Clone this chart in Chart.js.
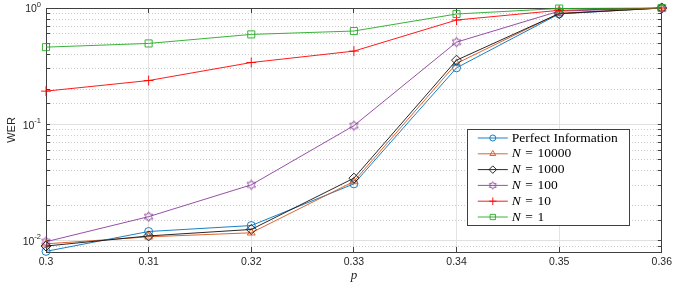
<!DOCTYPE html>
<html><head><meta charset="utf-8">
<script src="https://cdn.jsdelivr.net/npm/chart.js@4/dist/chart.umd.min.js"></script>
<style>html,body{margin:0;padding:0;background:#fff}#wrap{position:relative;width:681px;height:284px}</style>
</head><body><div id="wrap"><canvas id="c" width="681" height="284"></canvas></div>
<script>
// ---- data ----
const pValues    = [0.30, 0.31, 0.32, 0.33, 0.34, 0.35, 0.36];
const perfectInfo = [0.0081, 0.0120, 0.0135, 0.0308, 0.306, 0.890, 1.0];
const n10000     = [0.0094, 0.0108, 0.0117, 0.0323, 0.334, 0.900, 1.0];
const n1000      = [0.0090, 0.0110, 0.0125, 0.0345, 0.356, 0.895, 1.0];
const n100       = [0.0098, 0.0161, 0.0302, 0.0975, 0.509, 0.940, 1.0];
const n10        = [0.193, 0.238, 0.340, 0.426, 0.788, 0.955, 1.0];
const n1         = [0.461, 0.496, 0.593, 0.634, 0.888, 0.990, 1.0];
const seriesLabels = ['Perfect Information', 'N = 10000', 'N = 1000', 'N = 100', 'N = 10', 'N = 1'];
const xTickValues = [0.30, 0.31, 0.32, 0.33, 0.34, 0.35, 0.36];
const xTickLabels = ['0.3', '0.31', '0.32', '0.33', '0.34', '0.35', '0.36'];
const yMajorValues = [1, 0.1, 0.01];
const yMajorBase = ['10', '10', '10'];
const yMajorExp = ['0', '-1', '-2'];
const yMin = 0.008, yMax = 1;

// ---- styles ----
const AX = '#404040';
function hexagram(color, R) {
  const c = document.createElement('canvas');
  const n = Math.ceil(2 * R + 3);
  c.width = n; c.height = n;
  const g = c.getContext('2d');
  const r = R / Math.sqrt(3), cx = n / 2, cy = n / 2;
  g.beginPath();
  for (let k = 0; k < 12; k++) {
    const a = -Math.PI / 2 + k * Math.PI / 6;
    const rr = k % 2 === 0 ? R : r;
    const px = cx + rr * Math.cos(a), py = cy + rr * Math.sin(a);
    if (k === 0) g.moveTo(px, py); else g.lineTo(px, py);
  }
  g.closePath();
  g.strokeStyle = color; g.lineWidth = 0.9; g.stroke();
  return c;
}
const seriesData = [perfectInfo, n10000, n1000, n100, n10, n1];
const seriesColors = ['#0072BD', '#D95319', '#111111', '#8A3C9C', '#FF0000', '#22AA22'];
const seriesStyles = ['circle', 'triangle', 'rectRot', hexagram('#8A3C9C', 4.8), 'cross', 'rect'];
const legendStyles = ['circle', 'triangle', 'rectRot', hexagram('#8A3C9C', 3.8), 'cross', 'rect'];
const seriesRadius = [4, 4.5, 5, 5, 5, 5];

const datasets = seriesData.map((arr, i) => ({
  label: seriesLabels[i],
  data: arr.map((v, j) => ({x: pValues[j], y: v})),
  borderColor: seriesColors[i],
  backgroundColor: 'rgba(0,0,0,0)',
  pointBorderColor: seriesColors[i],
  pointBackgroundColor: 'rgba(0,0,0,0)',
  pointStyle: seriesStyles[i],
  pointRadius: seriesRadius[i],
  pointBorderWidth: 0.9,
  borderWidth: 0.9,
  tension: 0,
  clip: false,
  order: -i
}));

const isPow10 = v => Math.abs(Math.log10(v) - Math.round(Math.log10(v))) < 1e-6;
const setXTicks = s => { s.ticks = xTickValues.map(v => ({value: v})); };

// y labels with superscripts
const yLabelPlugin = {
  id: 'yLabels',
  afterDraw(chart) {
    const ctx = chart.ctx, s = chart.scales.y, right = chart.chartArea.left - 5;
    ctx.save();
    ctx.fillStyle = '#262626';
    ctx.textBaseline = 'middle';
    ctx.textAlign = 'left';
    yMajorValues.forEach((v, i) => {
      const y = s.getPixelForValue(v) + 1.5;
      ctx.font = '7.5px "Liberation Sans"';
      const ew = ctx.measureText(yMajorExp[i]).width;
      ctx.font = '10.5px "Liberation Sans"';
      const bw = ctx.measureText(yMajorBase[i]).width;
      const x0 = right - ew - bw;
      ctx.fillText(yMajorBase[i], x0, y);
      ctx.font = '7.5px "Liberation Sans"';
      ctx.fillText(yMajorExp[i], x0 + bw, y - 5);
    });
    ctx.restore();
  }
};

// MATLAB-like legend
const legendPlugin = {
  id: 'matLegend',
  afterDraw(chart) {
    const ctx = chart.ctx, ca = chart.chartArea;
    const left = ca.right - 195, top = ca.top + 121, w = 162, h = 96;
    ctx.save();
    ctx.fillStyle = '#fff';
    ctx.fillRect(left, top, w, h);
    ctx.strokeStyle = AX; ctx.lineWidth = 1;
    ctx.strokeRect(Math.round(left) + 0.5, Math.round(top) + 0.5, w, h);
    seriesLabels.forEach((lab, i) => {
      const y = top + 9 + i * 15.8;
      ctx.strokeStyle = seriesColors[i];
      ctx.lineWidth = 0.9;
      ctx.beginPath(); ctx.moveTo(left + 11, y); ctx.lineTo(left + 41, y); ctx.stroke();
      ctx.fillStyle = 'rgba(0,0,0,0)';
      Chart.helpers.drawPoint(ctx, {pointStyle: legendStyles[i], radius: seriesRadius[i] * 0.75, borderWidth: 0.9, rotation: 0}, left + 26, y);
      ctx.fillStyle = '#000';
      ctx.textBaseline = 'middle'; ctx.textAlign = 'left';
      let tx = left + 45;
      if (lab.startsWith('N ')) {
        ctx.font = 'italic 13.5px "Liberation Serif"';
        ctx.fillText('N', tx, y);
        tx += ctx.measureText('N').width;
        ctx.font = '13.5px "Liberation Serif"';
        ctx.fillText(lab.slice(1).replace('=', '\u200A=\u200A'), tx, y);
      } else {
        ctx.font = '13.5px "Liberation Serif"';
        ctx.fillText(lab, tx, y);
      }
    });
    ctx.restore();
  }
};

new Chart(document.getElementById('c'), {
  type: 'line',
  data: {datasets},
  plugins: [yLabelPlugin, legendPlugin],
  options: {
    responsive: false,
    animation: false,
    devicePixelRatio: 1,
    layout: {padding: {left: 0, right: 14, top: 8, bottom: 0}},
    plugins: {legend: {display: false}, tooltip: {enabled: false}},
    scales: {
      x: {
        type: 'linear', position: 'bottom', min: 0.3, max: 0.36,
        afterBuildTicks: setXTicks,
        afterFit: s => { s.height = 32; },
        ticks: {
          autoSkip: false, maxRotation: 0, padding: 9, color: '#262626',
          font: {family: 'Liberation Sans', size: 10.5},
          callback: (v, idx) => xTickLabels[idx]
        },
        grid: {color: '#e3e3e3', lineWidth: 1, tickColor: AX, tickLength: -5},
        border: {color: AX, width: 1},
        title: {display: true, text: 'p', color: '#262626',
          font: {family: 'Liberation Serif', style: 'italic', size: 13},
          padding: {top: 0, bottom: 1}}
      },
      x2: {
        type: 'linear', axis: 'x', position: 'top', min: 0.3, max: 0.36, display: true,
        afterBuildTicks: setXTicks,
        afterFit: s => { s.height = 0; },
        ticks: {display: false},
        grid: {drawOnChartArea: false, tickColor: AX, tickLength: -5},
        border: {color: AX, width: 1}
      },
      y: {
        type: 'logarithmic', position: 'left', min: yMin, max: yMax,
        afterFit: s => { s.width = 46; },
        ticks: {display: false, autoSkip: false},
        grid: {
          color: c => (c.tick && isPow10(c.tick.value)) ? '#e0e0e0' : '#cdcdcd',
          lineWidth: 1, tickColor: AX, tickLength: -4
        },
        border: {
          color: AX, width: 1,
          dash: c => (c.tick && !isPow10(c.tick.value)) ? [1, 2] : []
        },
        title: {display: true, text: 'WER', color: '#262626',
          font: {family: 'Liberation Sans', size: 11},
          padding: {top: 5, bottom: 0}}
      },
      y2: {
        type: 'logarithmic', axis: 'y', position: 'right', min: yMin, max: yMax, display: true,
        afterFit: s => { s.width = 0; },
        ticks: {display: false, autoSkip: false},
        grid: {drawOnChartArea: false, tickColor: AX, tickLength: -4},
        border: {color: AX, width: 1}
      }
    }
  }
});
</script>
</body></html>
